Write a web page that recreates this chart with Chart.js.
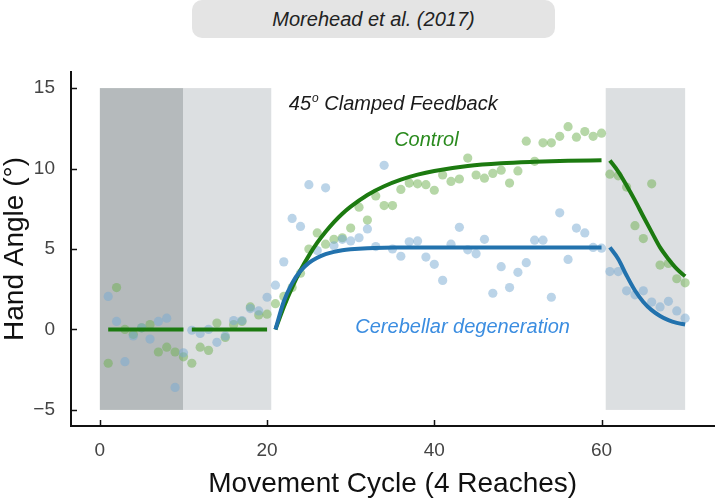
<!DOCTYPE html>
<html>
<head>
<meta charset="utf-8">
<script src="https://cdn.jsdelivr.net/npm/chart.js@4.4.0/dist/chart.umd.min.js"></script>
<style>
  html, body { margin: 0; padding: 0; background: #fff; }
  #wrap { position: relative; width: 719px; height: 501px; }
  #titulo {
    position: absolute; left: 192px; top: 0; width: 363px; height: 38px;
    background: #e4e4e4; border-radius: 10px; color: #222;
    font: italic 20px "Liberation Sans", Arial, sans-serif;
    text-align: center; line-height: 38px;
  }
</style>
</head>
<body>
<div id="wrap">
  <canvas id="grafico" width="719" height="501"></canvas>
  <div id="titulo">Morehead et al. (2017)</div>
</div>
<script>
// --- datos ---
const ciclos = [1,2,3,4,5,6,7,8,9,10,11,12,13,14,15,16,17,18,19,20,
  21,22,23,24,25,26,27,28,29,30,31,32,33,34,35,36,37,38,39,40,
  41,42,43,44,45,46,47,48,49,50,51,52,53,54,55,56,57,58,59,60,
  61,62,63,64,65,66,67,68,69,70];

const controlPuntos = [-2.1,2.6,0.0,-0.3,0.1,0.3,-1.4,-1.1,-1.4,-1.7,
  -2.1,-1.1,-1.3,0.4,-0.5,0.3,0.5,1.4,0.9,0.95,
  1.6,2.05,2.6,3.5,5.0,6.0,5.3,5.6,5.7,6.3,
  7.6,6.8,8.3,7.7,7.7,8.7,9.1,9.05,9.0,8.65,
  9.6,9.2,9.35,10.65,9.6,9.4,9.7,9.9,9.1,9.85,
  11.7,10.45,11.6,11.6,12.0,12.6,11.95,12.3,12.0,12.2,
  9.65,9.55,8.85,6.45,5.65,9.05,4.0,4.1,3.15,2.9];

const cerebeloPuntos = [2.05,0.5,-2.0,-0.4,0.1,-0.6,0.5,0.7,-3.6,-1.45,
  -0.05,-0.25,0.0,-0.8,-0.4,0.55,0.55,1.3,1.15,2.0,
  2.75,4.2,6.9,6.4,9.0,4.9,8.8,5.2,5.6,5.5,
  5.7,6.25,5.15,10.2,5.0,4.55,5.45,5.5,4.5,4.05,
  3.05,5.3,6.35,4.95,4.7,5.6,2.25,3.9,2.6,3.55,
  4.15,5.55,5.55,2.0,7.25,4.35,6.3,6.0,5.1,5.05,
  3.6,3.6,2.4,2.15,2.4,1.7,1.4,1.75,1.15,0.7];

// lineas base (promedio de la linea base)
const base1Ciclos = [1, 10];
const base2Ciclos = [11, 20];
const baseValores = [0, 0];

// ajuste exponencial, fase de retroalimentacion fija
const ajusteCiclos = [21,22,23,24,25,26,27,28,29,30,32,34,36,38,40,44,48,52,56,60];
const controlAjuste = [0,1.40,2.62,3.68,4.59,5.39,6.07,6.67,7.19,7.63,8.36,8.90,9.31,9.62,9.85,10.16,10.33,10.42,10.48,10.51];
const cerebeloAjuste = [0,1.74,2.88,3.64,4.14,4.46,4.68,4.82,4.92,4.98,5.05,5.08,5.09,5.1,5.1,5.1,5.1,5.1,5.1,5.1];

// fase sin retroalimentacion
const lavadoCiclos = [61,62,63,64,65,66,67,68,69,70];
const controlLavado = [10.5,9.81,8.95,8.02,7.02,6.05,5.1,4.38,3.76,3.3];
const cerebeloLavado = [5.1,4.38,3.35,2.42,1.71,1.2,0.84,0.58,0.41,0.31];

// bloques sombreados
const sombraInicio = [0, 10, 60.5];
const sombraFin = [10, 20.5, 70];
const sombraColor = ["#b5babc", "#dcdfe1", "#dcdfe1"];
const sombraArriba = 15, sombraAbajo = -5;

const xTicks = [0, 20, 40, 60];
const yTicks = [-5, 0, 5, 10, 15];

const fuente = '"Liberation Sans", Arial, sans-serif';
const verdeLinea = "#1c7a10", azulLinea = "#2272ad";

function pares(xs, ys) {
  return xs.map((x, i) => ({ x: x, y: ys[i] }));
}

const etiquetas = [
  { texto: "Control", x: 35.2, y: 11.75, color: "#2a8a1e", size: 20 },
  { texto: "Cerebellar degeneration", x: 30.55, y: 0.15, color: "#3b8de0", size: 20 }
];

const sombras = {
  id: "sombras",
  beforeDatasetsDraw(chart) {
    const { ctx, scales: { x, y } } = chart;
    const top = y.getPixelForValue(sombraArriba);
    const bot = y.getPixelForValue(sombraAbajo);
    ctx.save();
    sombraInicio.forEach((s, i) => {
      const x0 = x.getPixelForValue(s);
      const x1 = x.getPixelForValue(sombraFin[i]);
      ctx.fillStyle = sombraColor[i];
      ctx.fillRect(x0, top, x1 - x0, bot - top);
    });
    ctx.restore();
  }
};

const textos = {
  id: "textos",
  afterDatasetsDraw(chart) {
    const { ctx, scales: { x, y } } = chart;
    ctx.save();
    ctx.textBaseline = "middle";
    ctx.textAlign = "left";
    etiquetas.forEach(e => {
      ctx.font = "italic " + e.size + "px " + fuente;
      ctx.fillStyle = e.color;
      ctx.fillText(e.texto, x.getPixelForValue(e.x), y.getPixelForValue(e.y));
    });
    // 45º Clamped Feedback con superindice
    let px = x.getPixelForValue(22.6);
    const py = y.getPixelForValue(14.0);
    ctx.fillStyle = "#1a1a1a";
    ctx.font = "italic 20px " + fuente;
    ctx.fillText("45", px, py);
    px += ctx.measureText("45").width + 1;
    ctx.font = "italic 12px " + fuente;
    ctx.fillText("o", px, py - 6);
    px += ctx.measureText("o").width;
    ctx.font = "italic 20px " + fuente;
    ctx.fillText(" Clamped Feedback", px, py);
    ctx.restore();
  }
};

const marcas = {
  id: "marcas",
  afterDraw(chart) {
    const { ctx, chartArea, scales: { x, y } } = chart;
    ctx.save();
    ctx.strokeStyle = "#111";
    ctx.lineWidth = 1.5;
    xTicks.forEach(v => {
      const p = Math.round(x.getPixelForValue(v)) + 0.5;
      ctx.beginPath();
      ctx.moveTo(p, chartArea.bottom);
      ctx.lineTo(p, chartArea.bottom - 6);
      ctx.stroke();
    });
    yTicks.forEach(v => {
      const p = Math.round(y.getPixelForValue(v)) + 0.5;
      ctx.beginPath();
      ctx.moveTo(chartArea.left, p);
      ctx.lineTo(chartArea.left + 6, p);
      ctx.stroke();
    });
    ctx.restore();
  }
};

const lineaComun = {
  type: "line", showLine: true, pointRadius: 0, borderWidth: 4,
  cubicInterpolationMode: "monotone", fill: false, order: 0
};
const puntoComun = {
  type: "line", showLine: false, pointRadius: 4.6, pointBorderWidth: 0, order: 1
};

new Chart(document.getElementById("grafico"), {
  type: "line",
  data: {
    datasets: [
      Object.assign({}, lineaComun, { data: pares(base1Ciclos, baseValores), borderColor: verdeLinea }),
      Object.assign({}, lineaComun, { data: pares(base2Ciclos, baseValores), borderColor: verdeLinea }),
      Object.assign({}, lineaComun, { data: pares(ajusteCiclos, cerebeloAjuste), borderColor: azulLinea }),
      Object.assign({}, lineaComun, { data: pares(ajusteCiclos, controlAjuste), borderColor: verdeLinea }),
      Object.assign({}, lineaComun, { data: pares(lavadoCiclos, cerebeloLavado), borderColor: azulLinea }),
      Object.assign({}, lineaComun, { data: pares(lavadoCiclos, controlLavado), borderColor: verdeLinea }),
      Object.assign({}, puntoComun, { data: pares(ciclos, cerebeloPuntos), pointBackgroundColor: "rgba(120,170,210,0.5)" }),
      Object.assign({}, puntoComun, { data: pares(ciclos, controlPuntos), pointBackgroundColor: "rgba(110,175,80,0.5)" })
    ]
  },
  options: {
    responsive: false,
    animation: false,
    layout: { padding: { top: 72, left: 0, right: 0, bottom: 0 } },
    plugins: { legend: { display: false }, tooltip: { enabled: false } },
    scales: {
      x: {
        type: "linear", min: -3.45, max: 73.5,
        afterFit: s => { s.height = 75; },
        afterBuildTicks: s => { s.ticks = xTicks.map(v => ({ value: v })); },
        grid: { drawOnChartArea: false, drawTicks: false },
        border: { color: "#111", width: 2 },
        ticks: { font: { family: fuente, size: 19 }, color: "#444", padding: 13 },
        title: {
          display: true, text: "Movement Cycle (4 Reaches)", color: "#111",
          font: { family: fuente, size: 28 }, padding: { top: 0, bottom: 0 }
        }
      },
      y: {
        type: "linear", min: -6, max: 16,
        afterFit: s => { s.width = 71; },
        afterBuildTicks: s => { s.ticks = yTicks.map(v => ({ value: v })); },
        grid: { drawOnChartArea: false, drawTicks: false },
        border: { color: "#111", width: 2 },
        ticks: {
          font: { family: fuente, size: 19 }, color: "#444", padding: 16,
          callback: v => v < 0 ? "\u2212" + Math.abs(v) : String(v)
        },
        title: {
          display: true, text: "Hand Angle (°)", color: "#111",
          font: { family: fuente, size: 28 }, padding: { top: -2, bottom: 0 }
        }
      }
    }
  },
  plugins: [sombras, textos, marcas]
});
</script>
</body>
</html>
